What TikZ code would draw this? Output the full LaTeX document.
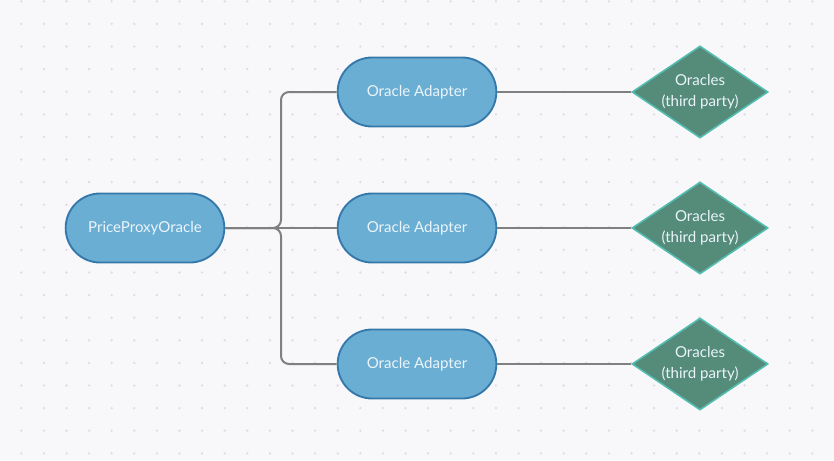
\documentclass[tikz,border=0pt]{standalone}
\usepackage{fontspec}
\setmainfont{Lato}
\usetikzlibrary{positioning}
\usetikzlibrary{shapes.geometric}
\definecolor{bgcol}{HTML}{F8F8FA}
\definecolor{dotcol}{HTML}{DEDEE2}
\definecolor{pillfill}{HTML}{6BAED4}
\definecolor{pillline}{HTML}{3479AC}
\definecolor{pilltext}{HTML}{EAF4FA}
\definecolor{oraclefill}{HTML}{558B79}
\definecolor{oracleline}{HTML}{52BDB0}
\definecolor{linkgray}{HTML}{808080}
\tikzset{
  pill/.style={draw=pillline, fill=pillfill, line width=1.4pt, rounded corners=25.8pt,
    minimum width=119pt, minimum height=51.75pt, text=pilltext,
    font=\fontsize{11.3}{13}\selectfont},
  oracle/.style={diamond, aspect=1.48, inner sep=0pt, draw=oracleline, fill=oraclefill,
    line width=1.2pt, minimum width=102pt, minimum height=69pt, text=pilltext, align=center,
    font=\fontsize{11.3}{16}\selectfont},
  link/.style={draw=linkgray, line width=1.5pt, rounded corners=6pt}
}

\begin{document}
\begin{tikzpicture}[x=0.75pt,y=-0.75pt]
\useasboundingbox (0,0) rectangle (834,460);
\fill[bgcol] (0,0) rectangle (834,460);
% dotted grid
\foreach \i in {0,...,36} {
  \foreach \j in {0,...,20} {
    \fill[dotcol] (21.3+22.6*\i,1.3+22.6*\j) circle (1.3);
  }
}
\node[pill] (proxy) at (145,228) {PriceProxyOracle};
\node[pill] (adapterA) at (417,92) {Oracle Adapter};
\node[pill] (adapterB) at (417,228) {Oracle Adapter};
\node[pill] (adapterC) at (417,364) {Oracle Adapter};
\node[oracle] (oracleA) at (700,92) {Oracles\\(third party)};
\node[oracle] (oracleB) at (700,228) {Oracles\\(third party)};
\node[oracle] (oracleC) at (700,364) {Oracles\\(third party)};
\coordinate (fork) at (281,228);
\draw[link] (proxy.east) -- (fork) |- (adapterA.west);
\draw[link] (proxy.east) -- (fork) |- (adapterC.west);
\draw[link] (proxy.east) -- (adapterB.west);
\draw[link] (adapterA.east) -- (oracleA.west);
\draw[link] (adapterB.east) -- (oracleB.west);
\draw[link] (adapterC.east) -- (oracleC.west);
\end{tikzpicture}
\end{document}
